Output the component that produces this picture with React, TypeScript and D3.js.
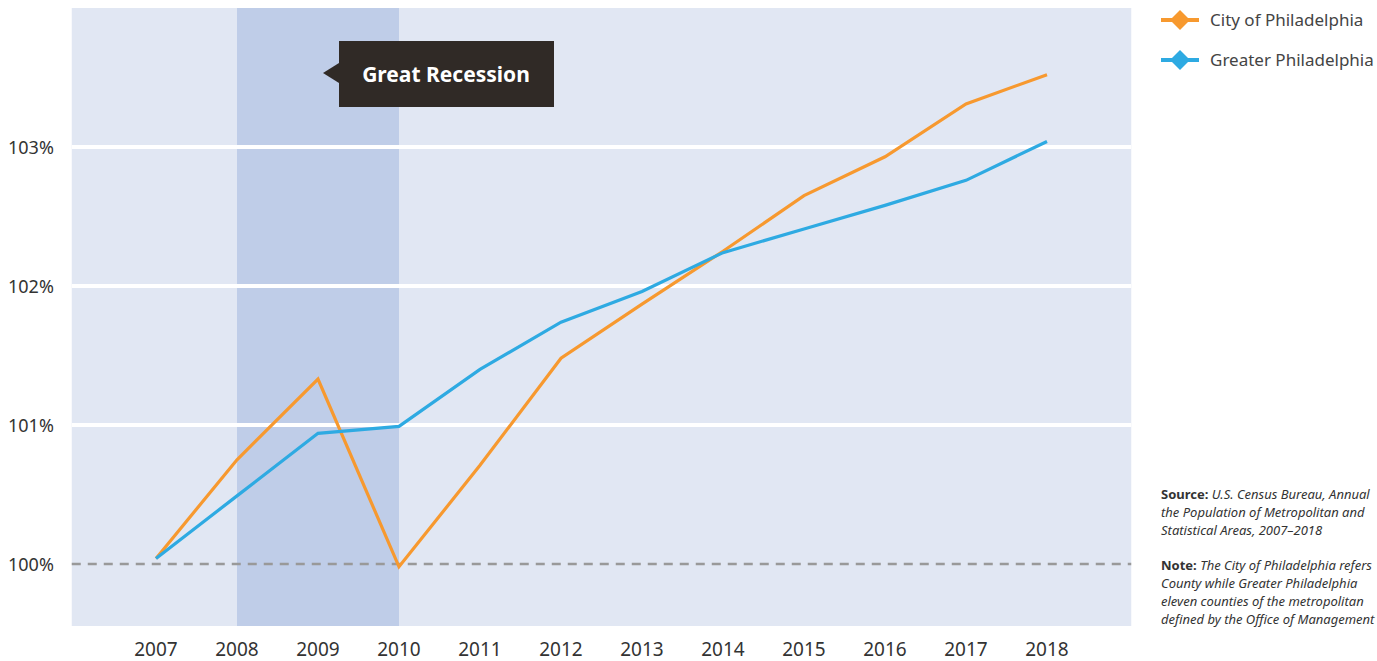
import React from 'react';
import * as d3 from 'd3';

const years = [2007, 2008, 2009, 2010, 2011, 2012, 2013, 2014, 2015, 2016, 2017, 2018];
const cityValues = [100.04, 100.75, 101.33, 99.98, 100.71, 101.48, 101.87, 102.25, 102.65, 102.93, 103.31, 103.52];
const greaterValues = [100.04, 100.49, 100.94, 100.99, 101.40, 101.74, 101.96, 102.24, 102.41, 102.58, 102.76, 103.04];
const yTicks = [100, 101, 102, 103];
const recession = [2008, 2010];
const sourceLines = ['U.S. Census Bureau, Annual', 'the Population of Metropolitan and', 'Statistical Areas, 2007–2018'];
const noteLines = ['The City of Philadelphia refers', 'County while Greater Philadelphia', 'eleven counties of the metropolitan', 'defined by the Office of Management'];

const W = 1377;
const H = 661;
const FONT = '"Noto Sans", sans-serif';

const App = () => {
  // year -> pixel
  const x = d3.scaleLinear().domain([2007, 2018]).range([156, 1047]);
  // percent -> pixel
  const y = d3.scaleLinear().domain([100, 103]).range([564, 147]);

  const plotLeft = x(2005.96);
  const plotRight = x(2019.04);
  const plotTop = 8;
  const plotBottom = 626;

  const line = d3.line<number>()
    .x((d, i) => x(years[i]))
    .y(d => y(d));

  const series = [
    { name: 'City of Philadelphia', values: cityValues, color: '#f7992f' },
    { name: 'Greater Philadelphia', values: greaterValues, color: '#2eaae2' },
  ];

  const diamond = (cx: number, cy: number, r: number) =>
    `M${cx},${cy - r}L${cx + r},${cy}L${cx},${cy + r}L${cx - r},${cy}Z`;

  return (
    <svg width={W} height={H} style={{ position: 'absolute', left: 0, top: 0, display: 'block' }}>
      <rect x={plotLeft} y={plotTop} width={plotRight - plotLeft} height={plotBottom - plotTop} fill="#e1e7f3" />
      <rect x={x(recession[0])} y={plotTop} width={x(recession[1]) - x(recession[0])} height={plotBottom - plotTop} fill="#bfcde8" />

      {/* grid */}
      {yTicks.filter(t => t !== 100).map(t => (
        <line key={t} x1={plotLeft} x2={plotRight} y1={y(t)} y2={y(t)} stroke="#fff" strokeWidth={4} />
      ))}
      <line x1={plotLeft} x2={plotRight} y1={y(100)} y2={y(100)} stroke="#999" strokeWidth={2.5} strokeDasharray="9,7" />

      {yTicks.map(t => (
        <text key={t} x={8} y={y(t) + 7} fontFamily={FONT} fontSize={18} fill="#333">{t}%</text>
      ))}
      {years.map(yr => (
        <text key={yr} x={x(yr)} y={656} textAnchor="middle" fontFamily={FONT} fontSize={19} fill="#333">{yr}</text>
      ))}

      {series.map(s => (
        <path key={s.name} d={line(s.values) || ''} fill="none" stroke={s.color} strokeWidth={3.2} strokeLinejoin="miter" />
      ))}

      {/* annotation */}
      <rect x={339} y={41} width={215} height={66} fill="#302a26" />
      <path d="M323,73L339,63L339,83Z" fill="#302a26" />
      <text x={446} y={82} textAnchor="middle" fontFamily={FONT} fontWeight="bold" fontSize={21} fill="#fff">Great Recession</text>

      {/* legend */}
      {series.map((s, i) => (
        <g key={s.name} transform={`translate(0,${20 + i * 40})`}>
          <line x1={1161} x2={1199} y1={0} y2={0} stroke={s.color} strokeWidth={4} />
          <path d={diamond(1180, 0, 10)} fill={s.color} />
          <text x={1210} y={6} fontFamily={FONT} fontSize={17} fill="#444">{s.name}</text>
        </g>
      ))}

      {/* notes */}
      <g fontFamily={FONT} fontSize={13} fill="#333">
        {sourceLines.map((t, i) => (
          <text key={'s' + i} x={1161} y={499 + i * 18}>
            {i === 0 && <tspan fontWeight="bold">Source: </tspan>}
            <tspan fontStyle="italic">{t}</tspan>
          </text>
        ))}
        {noteLines.map((t, i) => (
          <text key={'n' + i} x={1161} y={570 + i * 18}>
            {i === 0 && <tspan fontWeight="bold">Note: </tspan>}
            <tspan fontStyle="italic">{t}</tspan>
          </text>
        ))}
      </g>
    </svg>
  );
};

export default App;
